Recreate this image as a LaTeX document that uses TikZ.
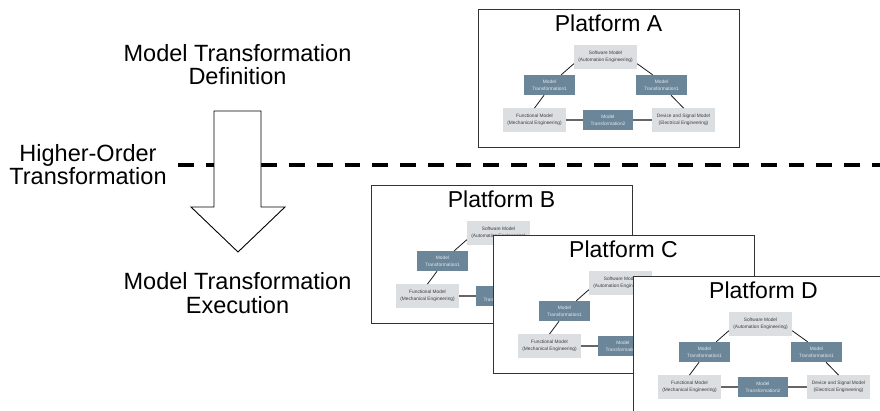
\documentclass[tikz,border=0pt]{standalone}
\usepackage{fontspec}
\setmainfont{Liberation Sans}
\definecolor{mgray}{HTML}{DCDFE2}
\definecolor{mblue}{HTML}{6B8699}
\definecolor{mtext}{HTML}{3C3C3C}
\definecolor{mwhite}{HTML}{E4EAEF}
\tikzset{
  bigtext/.style={align=center, font=\fontsize{23.5}{23.5}\selectfont, inner sep=0pt, anchor=base},
  frame/.style={draw=black!80, line width=1.2pt, fill=white, inner sep=0pt,
    minimum width=261pt, minimum height=138pt, anchor=north west},
  ptitle/.style={font=\fontsize{23}{23}\selectfont, inner sep=0pt, anchor=base},
  modelbox/.style={fill=mgray, text=mtext, minimum width=63pt, minimum height=23.5pt,
    inner sep=0pt, align=center, font=\fontsize{4.8}{7}\selectfont},
  trafobox/.style={fill=mblue, text=mwhite, minimum width=51pt, minimum height=20pt,
    inner sep=0pt, align=center, font=\fontsize{4.8}{7}\selectfont},
  diag/.style={draw=black!90, line width=0.8pt},
  flat/.style={draw=black!60, line width=1.4pt},
  bigarrow/.style={draw=black, line width=0.9pt, fill=white, line join=miter},
  hotline/.style={draw=black, line width=4pt, dash pattern=on 15.75pt off 12pt},
  platform/.pic={
    \node[frame] (-box) at (0,0) {};
    \node[ptitle] (-title) at (130.5,23) {Platform #1};
    \node[modelbox] (-sw) at (127.5,48) {Software Model\\(Automation Engineering)};
    \node[trafobox] (-tl) at (71.5,76) {Model\\Transformation1};
    \node[trafobox] (-tr) at (183.5,76) {Model\\Transformation1};
    \node[modelbox] (-fm) at (56.5,111) {Functional Model\\(Mechanical Engineering)};
    \node[trafobox, minimum width=50pt] (-t2) at (130,111) {Model\\Transformation2};
    \node[modelbox] (-dev) at (205.5,111) {Device and Signal Model\\(Electrical Engineering)};
    \path[diag] (-tl.41) -- (-sw.192);
    \path[diag] (-tl.242) -- (-fm.north);
    \path[diag] (-sw.348) -- (-tr.131);
    \path[diag] (-tr.313) -- (-dev.north);
    \path[flat] (-fm.east) -- (-t2.west);
    \path[flat] (-t2.east) -- (-dev.west);
  }
}
\begin{document}
\begin{tikzpicture}[x=1pt,y=-1pt]
  \useasboundingbox (0,0) rectangle (880,411);
  \clip (0,0) rectangle (880,411);

  % level separator, passing behind the arrow
  \coordinate (sepL) at (178,165);
  \coordinate (sepR) at (884,165);
  \path[hotline] (sepL) -- (sepR);

  % downward block arrow
  \path[bigarrow] (214,111) -- (261,111) -- (261,207) -- (285,207) -- (238,252)
    -- (191,207) -- (214,207) -- cycle;

  % multi-line labels, anchored at the baseline of their last line
  \node[bigtext] (defn) at (237.5,85) {Model Transformation\\Definition};
  \node[bigtext] (hot) at (88,185) {Higher-Order\\Transformation};
  \node[bigtext] (exec) at (237.5,313) {Model Transformation\\Execution};

  % platforms, later ones stacked on top
  \pic (pa) at (478,9) {platform=A};
  \pic (pb) at (371,185) {platform=B};
  \pic (pc) at (493,235) {platform=C};
  \pic (pd) at (633,276) {platform=D};
\end{tikzpicture}
\end{document}
